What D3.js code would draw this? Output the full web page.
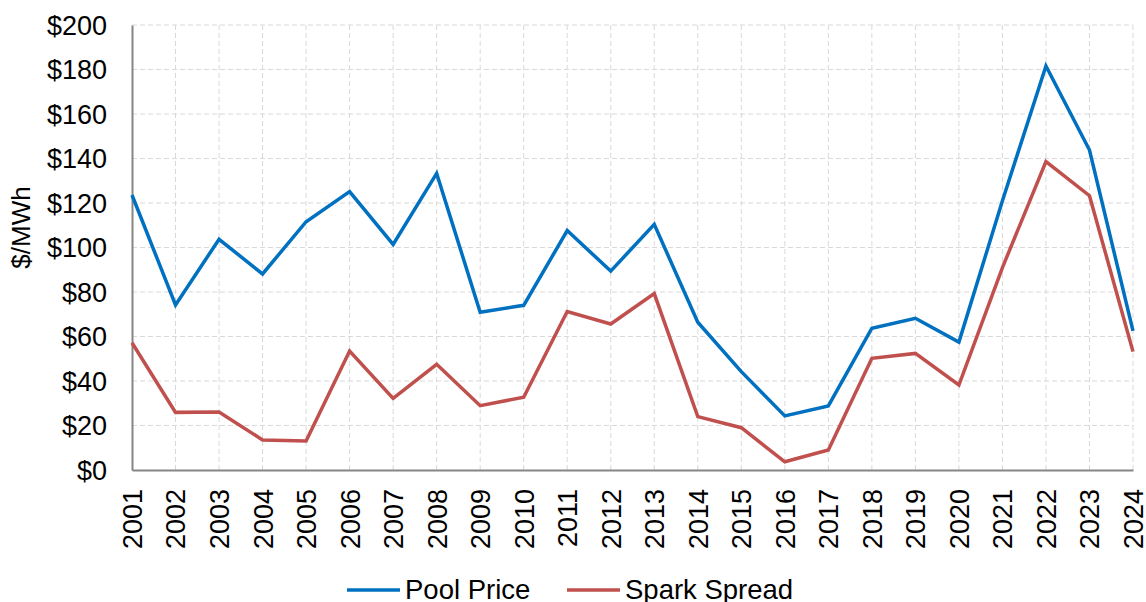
<!DOCTYPE html>
<html>
<head>
<meta charset="utf-8">
<script src="https://cdn.jsdelivr.net/npm/d3@7"></script>
<style>
  body { margin: 0; background: #fff; }
  text { font-family: Arial, "Liberation Sans", sans-serif; fill: #000; }
</style>
</head>
<body>
<svg id="chart" width="1146" height="602"></svg>
<script>
var years = ["2001","2002","2003","2004","2005","2006","2007","2008","2009","2010","2011","2012",
  "2013","2014","2015","2016","2017","2018","2019","2020","2021","2022","2023","2024"];
var poolPrice = [123.6, 74.2, 103.7, 88.1, 111.6, 125.1, 101.4, 133.3, 70.9, 74.0, 107.6, 89.4,
  110.4, 66.4, 44.2, 24.3, 28.8, 63.7, 68.2, 57.5, 121, 181.6, 143.8, 62.5];
var sparkSpread = [57.2, 25.9, 26.1, 13.5, 13.0, 53.5, 32.2, 47.5, 28.9, 32.7, 71.2, 65.6,
  79.3, 24.0, 19.0, 3.7, 9.0, 50.2, 52.4, 38.2, 91, 138.6, 123.3, 53.2];
var yTicks = [0, 20, 40, 60, 80, 100, 120, 140, 160, 180, 200];
var seriesNames = ["Pool Price", "Spark Spread"];
var seriesColors = ["#0070C0", "#C0504D"];

var margin = { top: 25, right: 13, bottom: 132, left: 132 },
  width = 1146 - margin.left - margin.right,
  height = 602 - margin.top - margin.bottom;

var svg = d3.select("#chart");
var g = svg.append("g").attr("transform", "translate(" + margin.left + "," + margin.top + ")");

var x = d3.scalePoint().domain(years).range([0, width]);
var y = d3.scaleLinear().domain([0, 200]).range([height, 0]);

// gridlines
g.selectAll(".hgrid")
  .data(yTicks.slice(1))
  .enter()
  .append("line")
  .attr("x1", 0).attr("x2", width)
  .attr("y1", d => y(d)).attr("y2", d => y(d))
  .style("stroke", "#d9d9d9")
  .style("stroke-width", 1)
  .style("stroke-dasharray", "5,3");

g.selectAll(".vgrid")
  .data(years.slice(1))
  .enter()
  .append("line")
  .attr("x1", d => x(d)).attr("x2", d => x(d))
  .attr("y1", 0).attr("y2", height)
  .style("stroke", "#d9d9d9")
  .style("stroke-width", 1)
  .style("stroke-dasharray", "5,3");

// y axis
var yAxis = g.append("g")
  .call(d3.axisLeft(y).tickValues(yTicks).tickFormat(d => "$" + d).tickSize(0).tickPadding(25));
yAxis.select(".domain").style("stroke", "#868686").style("stroke-width", 2);
yAxis.selectAll("text").style("font-size", "27px").attr("dy", "0.35em");

// x axis
var xAxis = g.append("g")
  .attr("transform", "translate(0," + height + ")")
  .call(d3.axisBottom(x).tickSize(0));
xAxis.select(".domain").style("stroke", "#868686").style("stroke-width", 2);
xAxis.selectAll("text")
  .style("font-size", "27px")
  .style("text-anchor", "end")
  .attr("transform", "rotate(-90)")
  .attr("x", -19)
  .attr("y", 0)
  .attr("dy", "0.35em");

// axis title
g.append("text")
  .attr("transform", "rotate(-90)")
  .attr("x", -height / 2 + 20)
  .attr("y", -margin.left + 30)
  .style("text-anchor", "middle")
  .style("font-size", "26px")
  .text("$/MWh");

// lines
var line = d3.line()
  .x((d, i) => x(years[i]))
  .y(d => y(d));

[poolPrice, sparkSpread].forEach(function (vals, i) {
  g.append("path")
    .datum(vals)
    .attr("d", line)
    .style("fill", "none")
    .style("stroke", seriesColors[i])
    .style("stroke-width", 3.5)
    .style("stroke-linejoin", "miter");
});

// legend
var legendX = [347, 567];
var legend = svg.selectAll(".legend")
  .data(seriesNames)
  .enter()
  .append("g")
  .attr("transform", (d, i) => "translate(" + legendX[i] + ",590)");

legend.append("line")
  .attr("x1", 0).attr("x2", 53)
  .attr("y1", 0).attr("y2", 0)
  .style("stroke", (d, i) => seriesColors[i])
  .style("stroke-width", 3.5);

legend.append("text")
  .attr("x", 58)
  .attr("y", 9)
  .style("font-size", "27.5px")
  .text(d => d);
</script>
</body>
</html>
